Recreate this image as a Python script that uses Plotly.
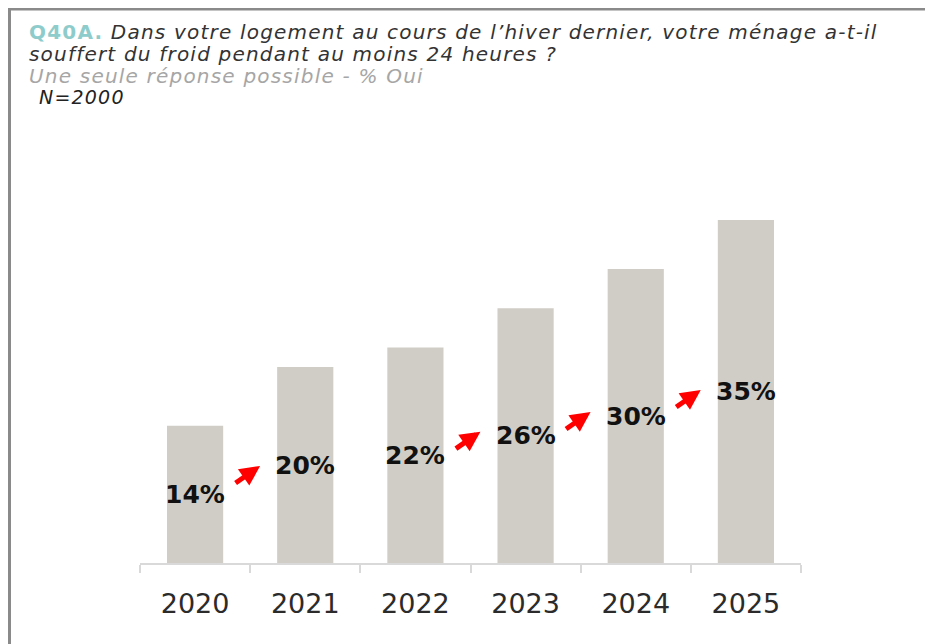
import plotly.graph_objects as go

years = ["2020", "2021", "2022", "2023", "2024", "2025"]
values = [14, 20, 22, 26, 30, 35]
label_texts = ["14%", "20%", "22%", "26%", "30%", "35%"]
# categories followed by a red "increase" arrow
arrow_after = ["2020", "2022", "2023", "2024"]

q_code = "Q40A."
title_line1 = "Dans votre logement au cours de l’hiver dernier, votre ménage a-t-il"
title_line2 = "souffert du froid pendant au moins 24 heures ?"
subtitle = "Une seule réponse possible - % Oui"
base_note = "N=2000"

OFF = 8  # page body margin
W, H = 933 - OFF, 644 - OFF
L, R, T, B = 140 - OFF, 132, 150 - OFF, 81
plot_w = W - L - R
plot_h = H - T - B
px_per_unit = 9.8
y_max = plot_h / px_per_unit


def pxx(x):
    return (x - OFF - L) / plot_w


def pxy(y):
    return (H - B - (y - OFF)) / plot_h


fig = go.Figure()
fig.add_trace(go.Bar(
    x=years, y=values,
    marker=dict(color="#d0cdc6", line=dict(width=0)),
    hoverinfo="skip",
))

annotations = []
# value labels centred in bars (x given as category index)
for i, (v, t) in enumerate(zip(values, label_texts)):
    annotations.append(dict(
        x=i, y=v / 2, xref="x", yref="y", text=t, showarrow=False,
        font=dict(family="DejaVu Sans", size=25, color="#111111", weight="bold"),
        xanchor="center", yanchor="middle",
    ))

# increase arrows
for yr in arrow_after:
    i = years.index(yr)
    tip_y = (values[i] + values[i + 1]) / 4 + 1.4
    annotations.append(dict(
        x=i + 0.59, y=tip_y, xref="x", yref="y", text="",
        showarrow=True, ax=-26, ay=18, axref="pixel", ayref="pixel",
        arrowhead=2, arrowsize=0.8, arrowwidth=5, arrowcolor="#ff0000",
        standoff=0, startstandoff=0,
    ))

SP = "letter-spacing:1.2px"
title_font = dict(family="DejaVu Sans", size=20, color="#333333")
annotations += [
    dict(x=pxx(27), y=pxy(32), xref="paper", yref="paper", xanchor="left", yanchor="middle",
         showarrow=False, font=title_font,
         text=f"<span style='{SP}'><b><span style='color:#8ecccc'>{q_code}</span></b> <i>{title_line1}</i></span>"),
    dict(x=pxx(27), y=pxy(54), xref="paper", yref="paper", xanchor="left", yanchor="middle",
         showarrow=False, font=title_font, text=f"<span style='{SP}'><i>{title_line2}</i></span>"),
    dict(x=pxx(27), y=pxy(76), xref="paper", yref="paper", xanchor="left", yanchor="middle",
         showarrow=False, font=dict(family="DejaVu Sans", size=20, color="#a6a6a6"),
         text=f"<span style='{SP}'><i>{subtitle}</i></span>"),
    dict(x=pxx(37), y=pxy(97), xref="paper", yref="paper", xanchor="left", yanchor="middle",
         showarrow=False, font=dict(family="DejaVu Sans", size=19, color="#222222"),
         text=f"<span style='{SP}'><i>{base_note}</i></span>"),
]

shapes = [
    dict(type="line", xref="paper", yref="paper", x0=pxx(8), x1=pxx(945), y0=pxy(9), y1=pxy(9),
         line=dict(color="#8a8a8a", width=3)),
    dict(type="line", xref="paper", yref="paper", x0=pxx(9.5), x1=pxx(9.5), y0=pxy(8), y1=pxy(660),
         line=dict(color="#8a8a8a", width=3)),
]

fig.update_layout(
    width=W, height=H,
    margin=dict(l=L, r=R, t=T, b=B, pad=0),
    paper_bgcolor="white", plot_bgcolor="white",
    showlegend=False,
    bargap=0.49,
    annotations=annotations,
    shapes=shapes,
    xaxis=dict(
        type="category", categoryorder="array", categoryarray=years,
        range=[-0.5, len(years) - 0.5], autorange=False,
        showgrid=False, zeroline=False,
        showline=True, linecolor="#d9d9d9", linewidth=1.5,
        ticks="outside", tickson="boundaries", ticklen=8, tickcolor="#d9d9d9", tickwidth=1.5,
        tickfont=dict(family="DejaVu Sans", size=27, color="#2b2b2b"),
        tickangle=0, ticklabelstandoff=16,
    ),
    yaxis=dict(range=[0, y_max], autorange=False, visible=False, showgrid=False, zeroline=False),
)

fig.write_html("out.html")
